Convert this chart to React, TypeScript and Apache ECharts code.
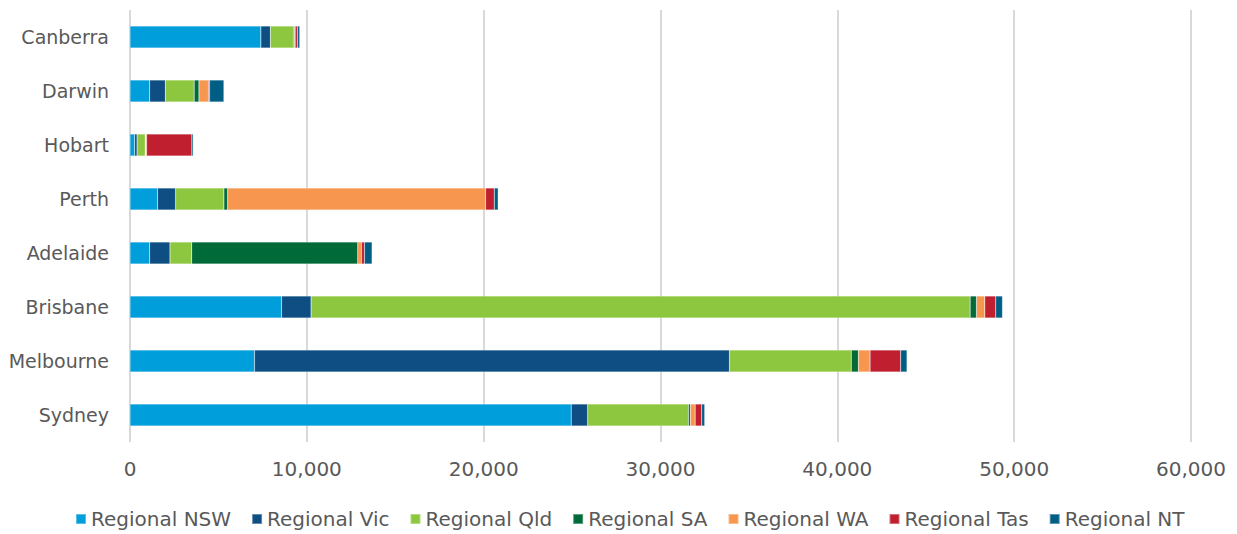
import React, { useEffect, useRef } from "react";
import * as echarts from "echarts";

const cities = ["Sydney", "Melbourne", "Brisbane", "Adelaide", "Perth", "Hobart", "Darwin", "Canberra"];
const seriesNames = ["Regional NSW", "Regional Vic", "Regional Qld", "Regional SA", "Regional WA", "Regional Tas", "Regional NT"];

// values per city in order of `cities`
const regionalNSW = [24950, 7040, 8570, 1110, 1560, 260, 1110, 7400];
const regionalVic = [930, 26860, 1670, 1150, 1020, 140, 890, 540];
const regionalQld = [5700, 6890, 37270, 1230, 2730, 460, 1630, 1300];
const regionalSA = [110, 400, 360, 9390, 210, 30, 270, 60];
const regionalWA = [270, 660, 470, 210, 14590, 50, 540, 40];
const regionalTas = [370, 1730, 620, 170, 490, 2560, 60, 130];
const regionalNT = [170, 360, 380, 430, 220, 80, 810, 130];

const seriesValues = [regionalNSW, regionalVic, regionalQld, regionalSA, regionalWA, regionalTas, regionalNT];
const seriesColors = ["#009EDB", "#0E4E82", "#8DC63F", "#006A38", "#F7964F", "#C01F2F", "#005E85"];

const xMax = 60000;
const xInterval = 10000;

const FONT = "'DejaVu Sans', sans-serif";
const TEXT = "#595959";

export default function App() {
  const ref = useRef<HTMLDivElement>(null);
  useEffect(() => {
    document.body.style.margin = "0";
    const chart = echarts.init(ref.current!, null, { renderer: "svg" });
    chart.setOption({
      animation: false,
      textStyle: { fontFamily: FONT },
      grid: { left: 130, right: 46, top: 10, bottom: 92, containLabel: false },
      legend: {
        bottom: 0,
        left: 70,
        itemWidth: 10,
        itemHeight: 10,
        itemGap: 20,
        icon: "rect",
        textStyle: { color: TEXT, fontSize: 20, fontFamily: FONT },
        data: seriesNames,
      },
      xAxis: {
        type: "value",
        min: 0,
        max: xMax,
        interval: xInterval,
        axisLine: { show: false },
        axisTick: { show: false },
        axisLabel: {
          color: TEXT,
          fontSize: 20,
          margin: 17,
          formatter: (v: number) => v.toLocaleString("en-US"),
        },
        splitLine: { show: true, lineStyle: { color: "#D9D9D9", width: 2 } },
      },
      yAxis: {
        type: "category",
        data: cities,
        axisLine: { show: false },
        axisTick: { show: false },
        axisLabel: { color: TEXT, fontSize: 19, margin: 21 },
        splitLine: { show: false },
      },
      series: seriesNames.map((name, i) => ({
        name,
        type: "bar",
        stack: "total",
        barWidth: 22,
        itemStyle: { color: seriesColors[i], borderColor: "rgba(255,255,255,0.35)", borderWidth: 0.5 },
        data: seriesValues[i],
      })),
    });
    return () => chart.dispose();
  }, []);
  return <div ref={ref} style={{ width: 1237, height: 534 }} />;
}
